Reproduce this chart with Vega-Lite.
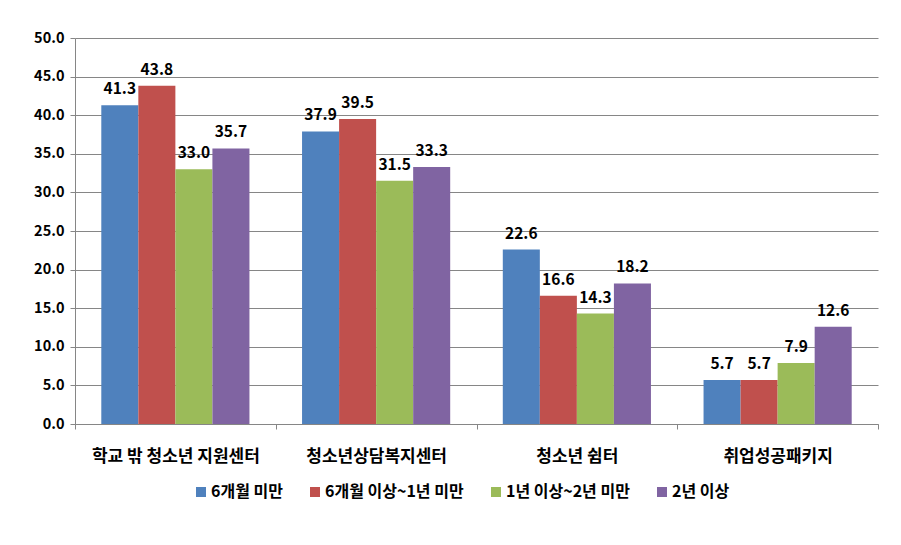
{
  "$schema": "https://vega.github.io/schema/vega-lite/v6.json",
  "width": 803,
  "height": 386,
  "autosize": {"type": "none"},
  "padding": {"left": 75, "top": 38, "right": 23, "bottom": 121},
  "background": "white",
  "config": {
    "view": {"stroke": null},
    "font": "Noto Sans CJK KR"
  },
  "data": {
    "values": [
      {"기관": "학교 밖 청소년 지원센터", "기간": "6개월 미만", "값": 41.3},
      {"기관": "학교 밖 청소년 지원센터", "기간": "6개월 이상~1년 미만", "값": 43.8},
      {"기관": "학교 밖 청소년 지원센터", "기간": "1년 이상~2년 미만", "값": 33.0},
      {"기관": "학교 밖 청소년 지원센터", "기간": "2년 이상", "값": 35.7},
      {"기관": "청소년상담복지센터", "기간": "6개월 미만", "값": 37.9},
      {"기관": "청소년상담복지센터", "기간": "6개월 이상~1년 미만", "값": 39.5},
      {"기관": "청소년상담복지센터", "기간": "1년 이상~2년 미만", "값": 31.5},
      {"기관": "청소년상담복지센터", "기간": "2년 이상", "값": 33.3},
      {"기관": "청소년 쉼터", "기간": "6개월 미만", "값": 22.6},
      {"기관": "청소년 쉼터", "기간": "6개월 이상~1년 미만", "값": 16.6},
      {"기관": "청소년 쉼터", "기간": "1년 이상~2년 미만", "값": 14.3},
      {"기관": "청소년 쉼터", "기간": "2년 이상", "값": 18.2},
      {"기관": "취업성공패키지", "기간": "6개월 미만", "값": 5.7},
      {"기관": "취업성공패키지", "기간": "6개월 이상~1년 미만", "값": 5.7},
      {"기관": "취업성공패키지", "기간": "1년 이상~2년 미만", "값": 7.9},
      {"기관": "취업성공패키지", "기간": "2년 이상", "값": 12.6}
    ]
  },
  "encoding": {
    "x": {
      "field": "기관",
      "type": "nominal",
      "sort": ["학교 밖 청소년 지원센터", "청소년상담복지센터", "청소년 쉼터", "취업성공패키지"],
      "scale": {"paddingInner": 0, "paddingOuter": 0},
      "axis": {
        "title": null,
        "labelAngle": 0,
        "labelFontSize": 17,
        "labelFontWeight": "bold",
        "labelColor": "#000000",
        "labelPadding": 19,
        "tickBand": "extent",
        "tickColor": "#868686",
        "tickSize": 5,
        "domainColor": "#868686",
        "grid": false
      }
    },
    "xOffset": {
      "field": "기간",
      "type": "nominal",
      "sort": ["6개월 미만", "6개월 이상~1년 미만", "1년 이상~2년 미만", "2년 이상"],
      "scale": {"paddingInner": 0, "paddingOuter": 0.71}
    },
    "y": {
      "field": "값",
      "type": "quantitative",
      "scale": {"domain": [0, 50], "nice": false},
      "axis": {
        "title": null,
        "values": [0, 5, 10, 15, 20, 25, 30, 35, 40, 45, 50],
        "format": ".1f",
        "labelFontSize": 14.5,
        "labelFontWeight": "bold",
        "labelColor": "#000000",
        "labelPadding": 6,
        "tickColor": "#868686",
        "tickSize": 5,
        "domainColor": "#868686",
        "gridColor": "#868686",
        "gridWidth": 1
      }
    }
  },
  "layer": [
    {
      "mark": {"type": "bar"},
      "encoding": {
        "color": {
          "field": "기간",
          "type": "nominal",
          "sort": ["6개월 미만", "6개월 이상~1년 미만", "1년 이상~2년 미만", "2년 이상"],
          "scale": {
            "domain": ["6개월 미만", "6개월 이상~1년 미만", "1년 이상~2년 미만", "2년 이상"],
            "range": ["#4F81BD", "#C0504D", "#9BBB59", "#8064A2"]
          },
          "legend": {
            "title": null,
            "orient": "none",
            "legendX": 118,
            "legendY": 446,
            "direction": "horizontal",
            "symbolType": "square",
            "symbolSize": 100,
            "symbolStrokeWidth": 0,
            "labelFontSize": 16,
            "labelFontWeight": "bold",
            "labelColor": "#000000",
            "labelOffset": 2,
            "columnPadding": 24,
            "labelLimit": 300
          }
        }
      }
    },
    {
      "mark": {"type": "text", "dy": -16, "fontSize": 15.5, "fontWeight": "bold", "color": "#000000"},
      "encoding": {
        "text": {"field": "값", "type": "quantitative", "format": ".1f"}
      }
    }
  ]
}
